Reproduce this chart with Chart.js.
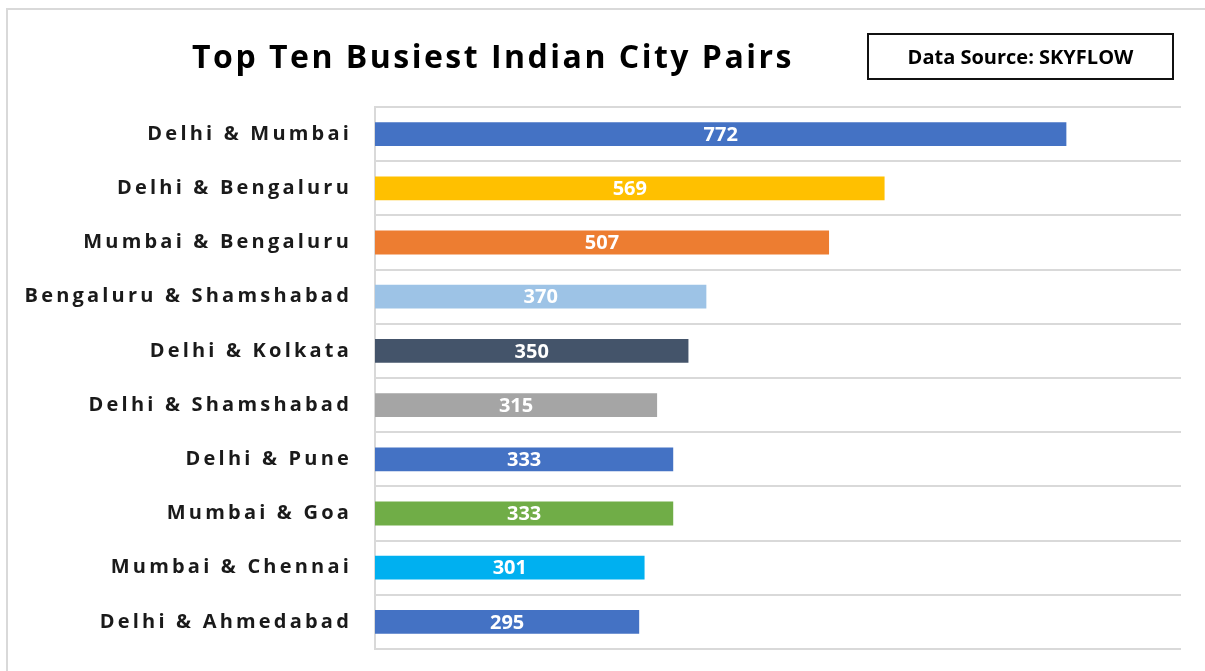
<!DOCTYPE html>
<html>
<head>
<meta charset="utf-8">
<script src="https://cdn.jsdelivr.net/npm/chart.js@4.4.1/dist/chart.umd.min.js"></script>
<style>
  html, body { margin: 0; padding: 0; background: #fff; overflow: hidden; }
  #wrap { position: relative; width: 1205px; height: 671px; }
  #frame { position: absolute; left: 6px; top: 8px; width: 1220px; height: 690px; border: 2px solid #d9d9d9; box-sizing: border-box; }
  #title { position: absolute; left: 0; width: 986px; top: 34px; text-align: center; font-family: "Open Sans", sans-serif; font-weight: 700; font-size: 32px; letter-spacing: 2.5px; color: #000; white-space: nowrap; }
  #source { position: absolute; left: 867px; top: 33px; width: 307px; height: 47px; border: 2px solid #111; box-sizing: border-box; display: flex; align-items: center; justify-content: center; font-family: "Open Sans", sans-serif; font-weight: 700; font-size: 20px; color: #000; }
  canvas { position: absolute; left: 0; top: 0; }
</style>
</head>
<body>
<div id="wrap">
  <div id="frame"></div>
  <canvas id="c" width="1205" height="671"></canvas>
  <div id="title">Top Ten Busiest Indian City Pairs</div>
  <div id="source">Data Source: SKYFLOW</div>
</div>
<script>
const categories = ["Delhi & Mumbai", "Delhi & Bengaluru", "Mumbai & Bengaluru", "Bengaluru & Shamshabad", "Delhi & Kolkata", "Delhi & Shamshabad", "Delhi & Pune", "Mumbai & Goa", "Mumbai & Chennai", "Delhi & Ahmedabad"];
const values = [772, 569, 507, 370, 350, 315, 333, 333, 301, 295];
const barColors = ["#4472C4", "#FFC000", "#ED7D31", "#9DC3E6", "#44546A", "#A5A5A5", "#4472C4", "#70AD47", "#00B0F0", "#4472C4"];

const spacingPlugin = {
  id: 'spacing',
  beforeDraw(chart) { chart.ctx.letterSpacing = '3.2px'; },
  beforeDatasetsDraw(chart) { chart.ctx.letterSpacing = '0px'; }
};

const valueLabels = {
  id: 'valueLabels',
  afterDatasetsDraw(chart) {
    const ctx = chart.ctx;
    const meta = chart.getDatasetMeta(0);
    ctx.save();
    ctx.letterSpacing = '0px';
    ctx.fillStyle = '#ffffff';
    ctx.font = 'bold 20px "Open Sans", sans-serif';
    ctx.textAlign = 'center';
    ctx.textBaseline = 'middle';
    meta.data.forEach((bar, i) => {
      const p = bar.getProps(['x', 'y', 'base'], true);
      ctx.fillText(String(chart.data.datasets[0].data[i]), (p.x + p.base) / 2, p.y + 1);
    });
    ctx.restore();
  }
};

new Chart(document.getElementById('c'), {
  type: 'bar',
  data: {
    labels: categories,
    datasets: [{
      data: values,
      backgroundColor: barColors,
      borderWidth: 0,
      categoryPercentage: 1,
      barPercentage: 0.44
    }]
  },
  options: {
    indexAxis: 'y',
    responsive: false,
    animation: false,
    layout: { padding: { top: 107, bottom: 22, right: 24, left: 0 } },
    plugins: { legend: { display: false }, tooltip: { enabled: false }, title: { display: false } },
    scales: {
      x: { display: false, min: 0, max: 900 },
      y: {
        afterFit(scale) { scale.width = 375; scale.paddingTop = 0; scale.paddingBottom = 0; },
        grid: { offset: true, color: '#d9d9d9', lineWidth: 2, drawTicks: false },
        border: { display: true, color: '#d9d9d9', width: 2 },
        ticks: {
          padding: 23,
          color: '#1a1a1a',
          font: { family: '"Open Sans", sans-serif', weight: 'bold', size: 20 }
        }
      }
    }
  },
  plugins: [spacingPlugin, valueLabels]
});
</script>
</body>
</html>
